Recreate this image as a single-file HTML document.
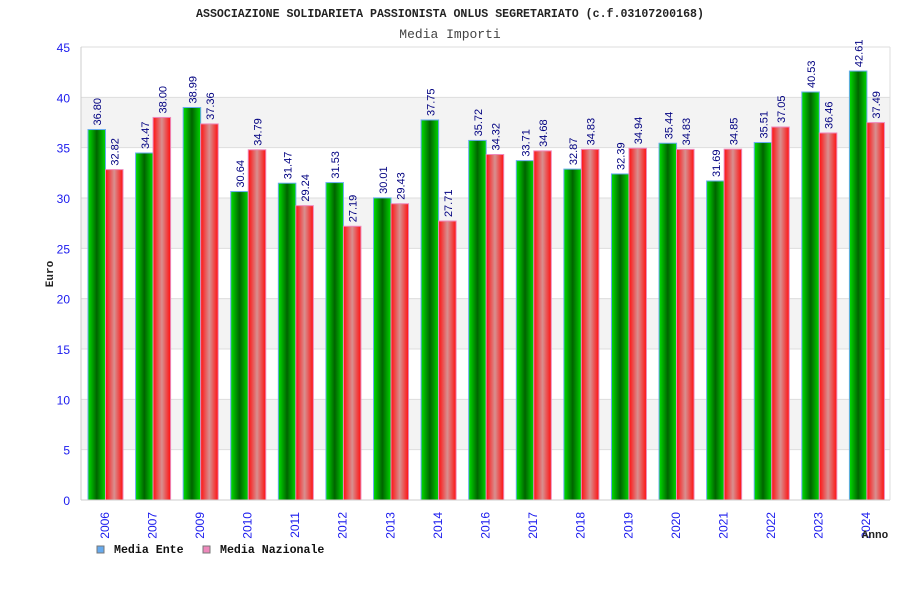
<!DOCTYPE html>
<html><head><meta charset="utf-8"><style>
body{margin:0;background:#fff;}
svg text{font-family:"Liberation Sans",sans-serif;}
.mono{font-family:"Liberation Mono",monospace;}
</style></head><body>
<svg id="c" width="900" height="600" xmlns="http://www.w3.org/2000/svg">
<defs>
<linearGradient id="gG" x1="0" x2="1" y1="0" y2="0"><stop offset="0" stop-color="#00e000"/><stop offset="0.5" stop-color="#006400"/><stop offset="1" stop-color="#00d800"/></linearGradient>
<linearGradient id="gR" x1="0" x2="1" y1="0" y2="0"><stop offset="0" stop-color="#ff1010"/><stop offset="0.5" stop-color="#d89090"/><stop offset="1" stop-color="#ff1010"/></linearGradient>
</defs>
<text x="450" y="17" text-anchor="middle" class="mono" font-size="11.6" font-weight="bold" fill="#222">ASSOCIAZIONE SOLIDARIETA PASSIONISTA ONLUS SEGRETARIATO (c.f.03107200168)</text>
<text x="450" y="38" text-anchor="middle" class="mono" font-size="13" fill="#444">Media Importi</text>
<g id="grid"></g><g id="bars"></g><g id="axes"></g>
<text x="53" y="274" transform="rotate(-90 53 274)" text-anchor="middle" class="mono" font-size="11" font-weight="bold" fill="#222">Euro</text>
<text x="875" y="538" text-anchor="middle" class="mono" font-size="11" font-weight="bold" fill="#222">Anno</text>
<g><rect x="97" y="546" width="7" height="7" fill="#66aaee" stroke="#777"/><text x="114" y="553" class="mono" font-size="11.6" font-weight="bold" fill="#111">Media Ente</text></g>
<g><rect x="203" y="546" width="7" height="7" fill="#ee88bb" stroke="#777"/><text x="220" y="553" class="mono" font-size="11.6" font-weight="bold" fill="#111">Media Nazionale</text></g>
</svg>
<script>
const categories=["2006","2007","2009","2010","2011","2012","2013","2014","2016","2017","2018","2019","2020","2021","2022","2023","2024"];
const mediaEnte=[36.80,34.47,38.99,30.64,31.47,31.53,30.01,37.75,35.72,33.71,32.87,32.39,35.44,31.69,35.51,40.53,42.61];
const mediaNazionale=[32.82,38.00,37.36,34.79,29.24,27.19,29.43,27.71,34.32,34.68,34.83,34.94,34.83,34.85,37.05,36.46,37.49];
const yTicks=[0,5,10,15,20,25,30,35,40,45];
const NS="http://www.w3.org/2000/svg";
const L=81,R=890,T=47,B=500,yMax=45;
const y=v=>B-(v/yMax)*(B-T);
const gw=(R-L)/categories.length;
const x=i=>L+i*gw;
function mk(tag,attrs,parent,txt){const e=document.createElementNS(NS,tag);for(const k in attrs)e.setAttribute(k,attrs[k]);if(txt!==undefined)e.textContent=txt;parent.appendChild(e);return e;}
const grid=document.getElementById('grid'),bars=document.getElementById('bars'),axes=document.getElementById('axes');
for(let i=0;i<yTicks.length-1;i++){
  if(i%2===1){const r=mk('rect',{x:L,y:y(yTicks[i+1]),width:R-L,height:y(yTicks[i])-y(yTicks[i+1]),fill:'#f3f3f3'},grid);
  
  }
}
yTicks.forEach(t=>{
  const l=mk('line',{x1:L,x2:R,y1:y(t),y2:y(t),stroke:'#ddd'},grid);
  
  
  const tx=mk('text',{x:L-11,y:y(t)+5,'text-anchor':'end','font-size':12,fill:'#1a1aee'},axes,String(t));
  
  
});
mk('line',{x1:L,x2:L,y1:T,y2:B,stroke:'#ccc'},axes);
mk('line',{x1:L,x2:R,y1:B,y2:B,stroke:'#ccc'},axes);
mk('line',{x1:R,x2:R,y1:T,y2:B,stroke:'#ddd'},axes);
const bw=17.5;
categories.forEach((c,i)=>{
  const x0=x(i)+7;
  const series=[[mediaEnte[i],'url(#gG)','#66aaee','bar-media-ente-'+c],[mediaNazionale[i],'url(#gR)','#ee88bb','bar-media-nazionale-'+c]];
  series.forEach((s,j)=>{
    const bx=x0+j*bw;
    const r=mk('rect',{x:bx,y:y(s[0]),width:bw,height:B-y(s[0]),fill:s[1],stroke:s[2],'stroke-width':1},bars);
    
    
    const lx=bx+bw/2+4.5,ly=y(s[0])-4;
    const t=mk('text',{x:lx,y:ly,transform:`rotate(-90 ${lx} ${ly})`,'font-size':11,fill:'#000080'},bars,s[0].toFixed(2));
    
    
  });
  const cx=x(i)+gw/2-1,cy=B+12;
  const t=mk('text',{x:cx+5,y:cy,transform:`rotate(-90 ${cx+5} ${cy})`,'text-anchor':'end','font-size':12,fill:'#1a1aee'},axes,c);
  
  
});
</script>
</body></html>
